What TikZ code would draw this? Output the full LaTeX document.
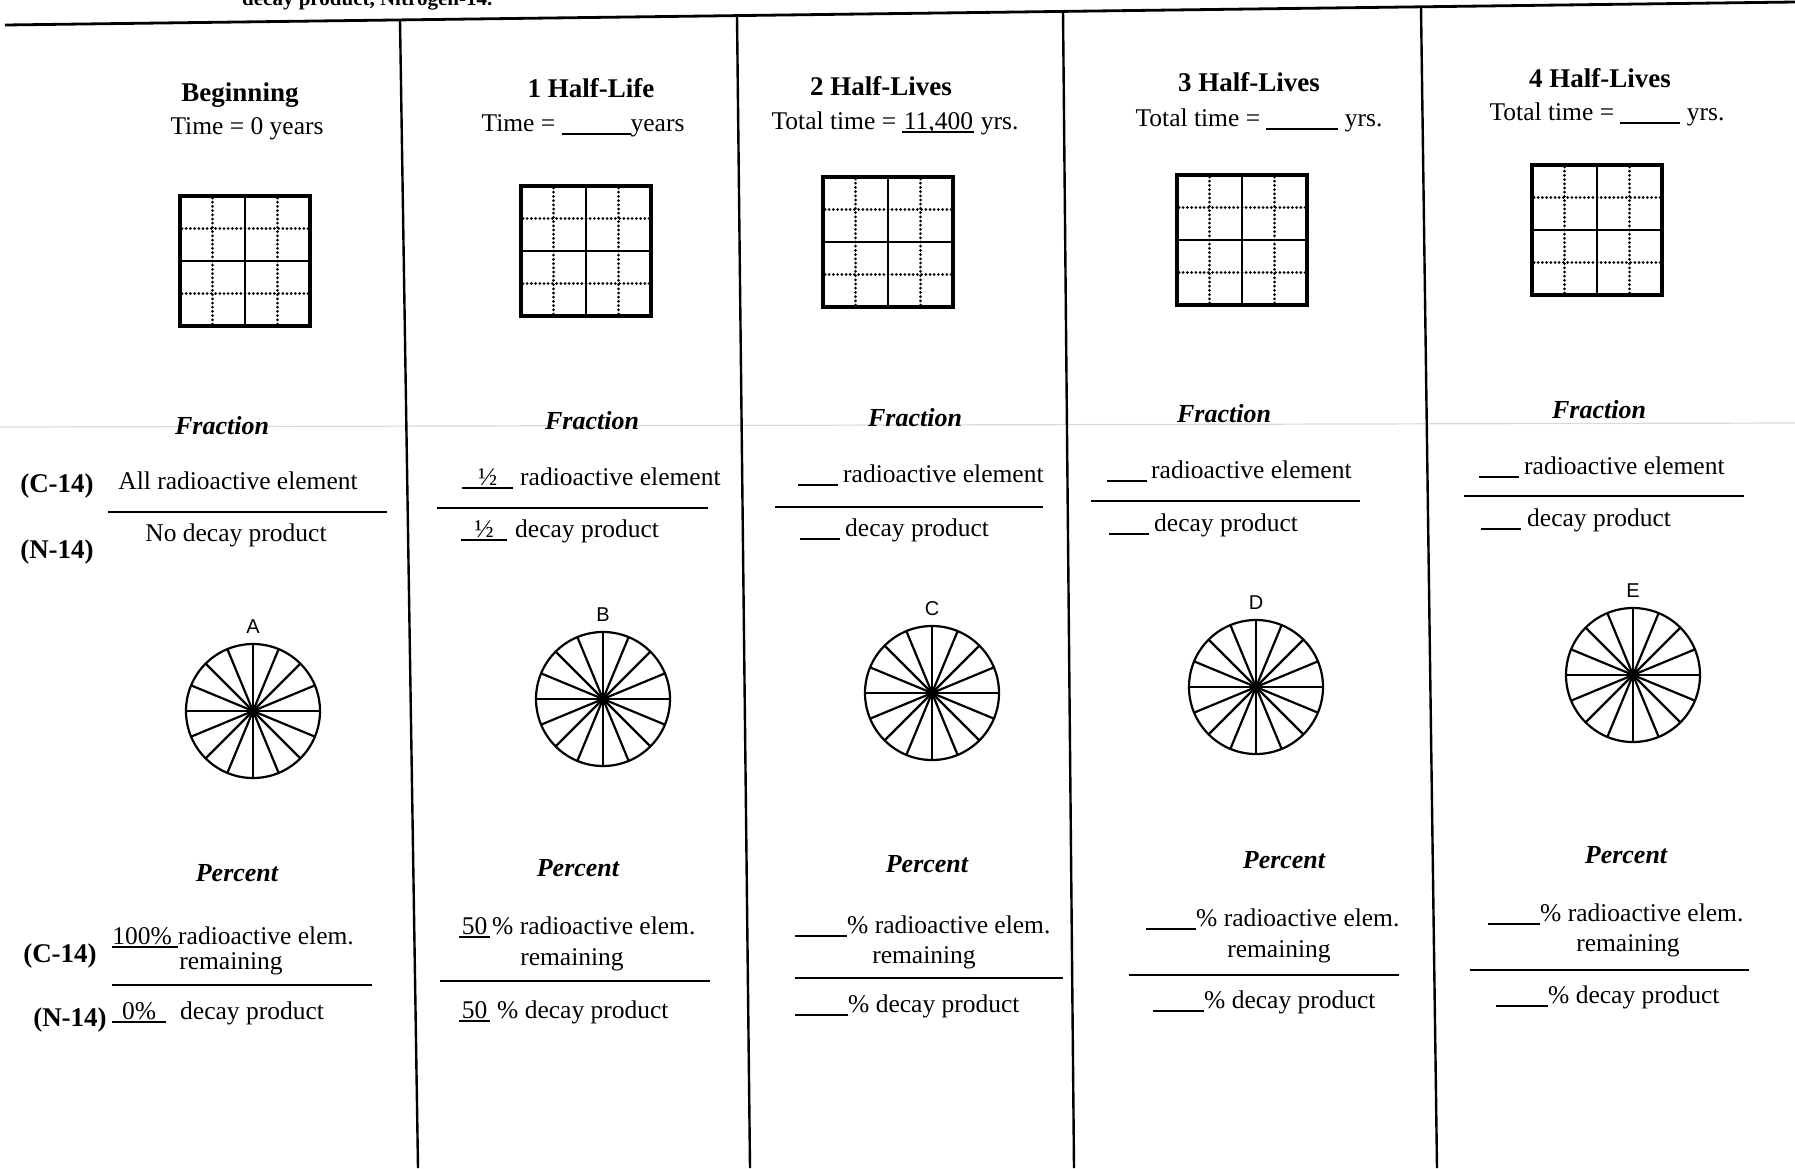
\documentclass[tikz,border=0pt]{standalone}
\usepackage{fontspec}
\setmainfont{Liberation Serif}
\setsansfont{Liberation Sans}
% answer blank: underline of given width with optional content
\newcommand\blank[2]{\makebox[0pt][l]{\rule[-4pt]{#1}{2pt}}\makebox[#1]{#2}}
\tikzset{
  txt/.style={font=\fontsize{25.5}{30}\selectfont, inner sep=0pt, anchor=base},
  lefttxt/.style={txt, anchor=base west},
  head/.style={txt, font=\fontsize{27}{32}\selectfont\bfseries},
  sub/.style={txt, font=\fontsize{26}{30}\selectfont\bfseries\itshape},
  iso/.style={txt, font=\fontsize{27}{32}\selectfont\bfseries},
  pielabel/.style={font=\sffamily\fontsize{20}{22}\selectfont, inner sep=0pt},
  bar/.style={line width=2.6pt},
  divider/.style={line width=2.4pt},
}
\begin{document}
\begin{tikzpicture}[x=1pt,y=-1pt]
\useasboundingbox (0,0) rectangle (1795,1168);
% cut-off line of the sheet above
\node[lefttxt, font=\fontsize{21}{26}\selectfont\bfseries] (toptext) at (242,5) {decay product, Nitrogen-14.};
\draw[line width=2.8pt] (5,25) -- (1795,2);
\draw[gray!30, line width=1.2pt] (0,427) -- (1795,423);
% column dividers
\draw[divider] (400,20) -- (418,1168);
\draw[divider] (737,16) -- (750,1168);
\draw[divider] (1063,11) -- (1074,1168);
\draw[divider] (1421,7) -- (1437,1168);

% headings
\node[head] (head1) at (240,101) {Beginning};
\node[txt] (time1) at (247,134) {Time = 0 years};
\node[head] (head2) at (591,97) {1 Half-Life};
\node[txt] (time2) at (583,131) {Time = \blank{69pt}{}years};
\node[head] (head3) at (881,95) {2 Half-Lives};
\node[txt] (time3) at (895,129) {Total time = \blank{72pt}{11,400} yrs.};
\node[head] (head4) at (1249,91) {3 Half-Lives};
\node[txt] (time4) at (1259,126) {Total time = \blank{72pt}{} yrs.};
\node[head] (head5) at (1600,87) {4 Half-Lives};
\node[txt] (time5) at (1607,120) {Total time = \blank{60pt}{} yrs.};

% grids
\foreach \gx/\gy in {245/261,586/251,888/242,1242/240,1597/230}{
  \draw[line width=3pt, line cap=round, dash pattern=on 0pt off 4.2pt]
    (\gx-32.5,\gy-63) -- (\gx-32.5,\gy+63) (\gx+32.5,\gy-63) -- (\gx+32.5,\gy+63)
    (\gx-63,\gy-32.5) -- (\gx+63,\gy-32.5) (\gx-63,\gy+32.5) -- (\gx+63,\gy+32.5);
  \draw[line width=2.4pt] (\gx,\gy-65) -- (\gx,\gy+65) (\gx-65,\gy) -- (\gx+65,\gy);
  \draw[line width=4.5pt] (\gx-65,\gy-65) rectangle (\gx+65,\gy+65);
}

% fractions
\node[sub] (frac1) at (222,434) {Fraction};
\node[sub] (frac2) at (592,429) {Fraction};
\node[sub] (frac3) at (915,426) {Fraction};
\node[sub] (frac4) at (1224,422) {Fraction};
\node[sub] (frac5) at (1599,418) {Fraction};

\node[iso] (fc1) at (57,492) {(C-14)};
\node[iso] (fn1) at (57,558) {(N-14)};
\node[txt] (fr1) at (238,489) {All radioactive element};
\node[txt] (fd1) at (236,541) {No decay product};
\draw[bar] (108,512) -- (387,512);

\node[lefttxt] (fr2) at (462,485) {\blank{51pt}{½}\hspace{7pt}radioactive element};
\node[lefttxt] (fd2) at (461,537) {\blank{46pt}{½}\hspace{8pt}decay product};
\draw[bar] (437,508) -- (708,508);

\node[lefttxt] (fr3) at (798,482) {\blank{40pt}{}\hspace{5pt}radioactive element};
\node[lefttxt] (fd3) at (800,536) {\blank{40pt}{}\hspace{5pt}decay product};
\draw[bar] (775,507) -- (1043,507);

\node[lefttxt] (fr4) at (1107,478) {\blank{40pt}{}\hspace{4pt}radioactive element};
\node[lefttxt] (fd4) at (1109,531) {\blank{40pt}{}\hspace{5pt}decay product};
\draw[bar] (1091,501) -- (1360,501);

\node[lefttxt] (fr5) at (1479,474) {\blank{40pt}{}\hspace{5pt}radioactive element};
\node[lefttxt] (fd5) at (1481,526) {\blank{40pt}{}\hspace{6pt}decay product};
\draw[bar] (1464,496) -- (1744,496);

% pies
\foreach \px/\py/\lab in {253/711/A,603/699/B,932/693/C,1256/687/D,1633/675/E}{
  \draw[line width=2.2pt] (\px,\py) circle (67);
  \foreach \a in {0,22.5,...,337.5}
    \draw[line width=2.2pt] (\px,\py) -- ++(\a:67);
  \fill (\px,\py) circle (6);
  \node[pielabel] (pie\lab) at (\px,\py-84) {\lab};
}

% percents
\node[sub] (perc1) at (237,881) {Percent};
\node[sub] (perc2) at (578,876) {Percent};
\node[sub] (perc3) at (927,872) {Percent};
\node[sub] (perc4) at (1284,868) {Percent};
\node[sub] (perc5) at (1626,863) {Percent};

\node[iso] (pc1) at (60,962) {(C-14)};
\node[iso] (pn1) at (70,1026) {(N-14)};
\node[lefttxt] (pr1) at (112,944) {\blank{66pt}{100\%\hspace{6pt}}radioactive elem.};
\node[txt] (rem1) at (231,969) {remaining};
\draw[bar] (112,985) -- (372,985);
\node[lefttxt] (pd1) at (112,1019) {\blank{54pt}{0\%}\hspace{14pt}decay product};

\node[lefttxt] (pr2) at (459,934) {\blank{31pt}{50}\hspace{2pt}\% radioactive elem.};
\node[txt] (rem2) at (572,965) {remaining};
\draw[bar] (440,981) -- (710,981);
\node[lefttxt] (pd2) at (459,1018) {\blank{31pt}{50}\hspace{7pt}\% decay product};

\node[lefttxt] (pr3) at (795,933) {\blank{52pt}{}\% radioactive elem.};
\node[txt] (rem3) at (924,963) {remaining};
\draw[bar] (795,978) -- (1063,978);
\node[lefttxt] (pd3) at (795,1012) {\blank{53pt}{}\% decay product};

\node[lefttxt] (pr4) at (1146,926) {\blank{50pt}{}\% radioactive elem.};
\node[txt] (rem4) at (1279,957) {remaining};
\draw[bar] (1129,975) -- (1399,975);
\node[lefttxt] (pd4) at (1153,1008) {\blank{51pt}{}\% decay product};

\node[lefttxt] (pr5) at (1488,921) {\blank{52pt}{}\% radioactive elem.};
\node[txt] (rem5) at (1628,951) {remaining};
\draw[bar] (1470,970) -- (1749,970);
\node[lefttxt] (pd5) at (1496,1003) {\blank{52pt}{}\% decay product};
\end{tikzpicture}
\end{document}
